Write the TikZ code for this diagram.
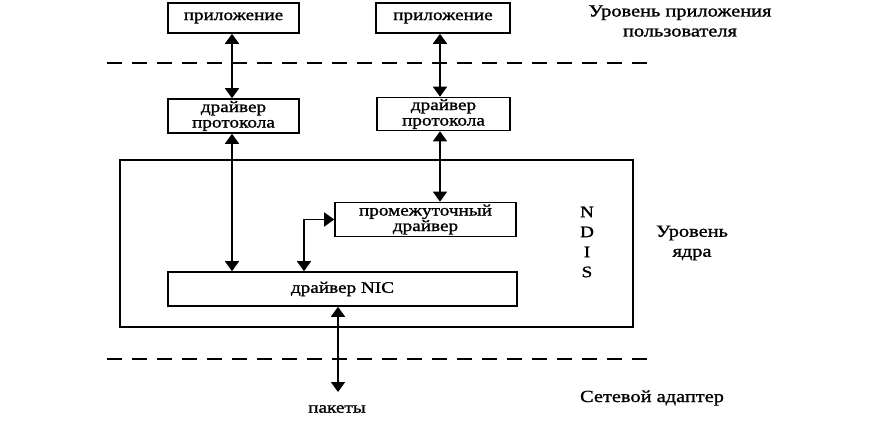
\documentclass[tikz,border=0pt]{standalone}
\usepackage{fontspec}
\setmainfont{Liberation Serif}[FakeStretch=1.2,FakeBold=1.2]
\usetikzlibrary{arrows.meta}
\begin{document}
\begin{tikzpicture}[x=1pt,y=-1pt,
  box/.style={draw,line width=1.6pt,inner sep=0pt,align=center,
    font=\fontsize{16}{15.5}\selectfont},
  lbl/.style={inner sep=0pt,align=center,font=\fontsize{17}{20}\selectfont},
  conn/.style={line width=1.6pt,{Triangle[width=14pt,length=10pt]}-{Triangle[width=14pt,length=10pt]}},
  sep/.style={line width=1.6pt,dash pattern=on 15pt off 10pt}]
\useasboundingbox (0,0) rectangle (872,420);
% boxes
\node[box,minimum width=131pt,minimum height=30pt] (app1) at (233.5,18) {приложение};
\node[box,minimum width=134pt,minimum height=30pt] (app2) at (443,18) {приложение};
\node[box,minimum width=131pt,minimum height=34pt] (drv1) at (233.5,116) {драйвер\\протокола};
\node[box,minimum width=133pt,minimum height=33pt] (drv2) at (443.5,114) {драйвер\\протокола};
\node[draw,line width=1.6pt,minimum width=513pt,minimum height=167pt,inner sep=0pt] (ndis) at (376.5,243.5) {};
\node[box,minimum width=181pt,minimum height=34pt] (inter) at (425.5,219.5) {промежуточный\\драйвер};
\node[box,minimum width=349pt,minimum height=34pt] (nic) at (342.5,289) {драйвер NIC};
% separators
\coordinate (s1a) at (107,63); \coordinate (s1b) at (650,63);
\coordinate (s2a) at (107,359); \coordinate (s2b) at (650,359);
\draw[sep] (s1a) -- (s1b);
\draw[sep] (s2a) -- (s2b);
% connector columns
\coordinate (cl) at (232,0);
\coordinate (cr) at (440,0);
\coordinate (ce) at (304,0);
\coordinate (cb) at (338,0);
\coordinate (pk) at (338,392);
\draw[conn] (app1.south -| cl) -- (drv1.north -| cl);
\draw[conn] (app2.south -| cr) -- (drv2.north -| cr);
\draw[conn] (drv1.south -| cl) -- (nic.north -| cl);
\draw[conn] (drv2.south -| cr) -- (inter.north -| cr);
\draw[conn] (nic.north -| ce) |- (inter.west);
\draw[conn] (nic.south -| cb) -- (pk);
% labels
\node[lbl] (top) at (680,21) {Уровень приложения\\пользователя};
\node[lbl] (kern) at (692,243) {Уровень\\ядра};
\node[lbl,font=\fontsize{16}{20}\selectfont] (nd) at (587,242) {N\\D\\I\\S};
\node[lbl] (net) at (652,398) {Сетевой адаптер};
\node[lbl,font=\fontsize{16}{20}\selectfont] (pak) at (337,409) {пакеты};
\end{tikzpicture}
\end{document}
